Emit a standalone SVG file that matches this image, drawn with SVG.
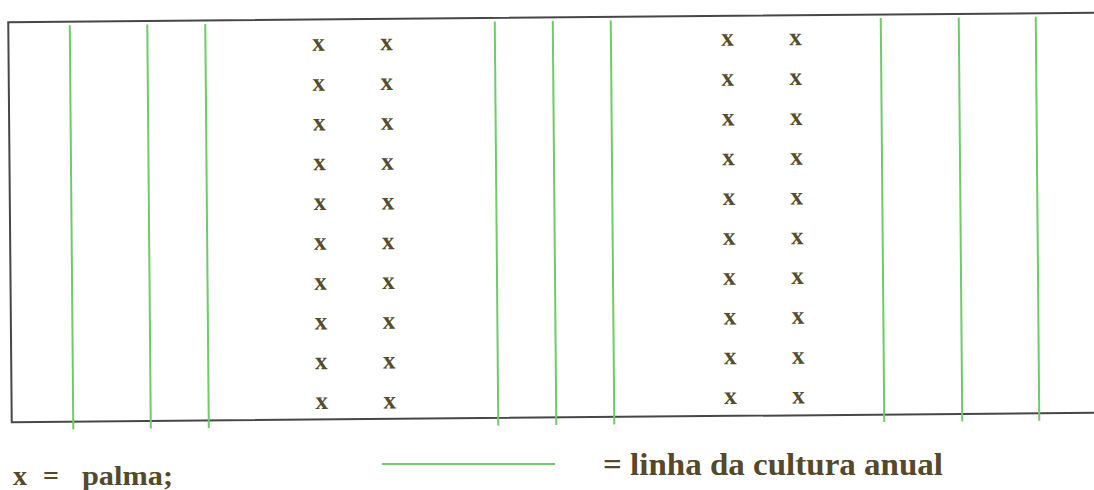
<svg xmlns="http://www.w3.org/2000/svg" width="1094" height="490" viewBox="0 0 1094 490">
<style>
.frame{fill:none;stroke:#474747;stroke-width:2}
.crop{stroke:#6fcb6a;stroke-width:2;fill:none}
.palm{font-family:'Liberation Serif','DejaVu Serif',serif;font-weight:700;font-size:25px;fill:#564c2c;text-anchor:middle}
.legend{font-family:'Liberation Serif','DejaVu Serif',serif;font-weight:700;fill:#54492a}
</style>
<rect width="1094" height="490" fill="#ffffff"/>
<g transform="rotate(-0.5 547 220)">
  <g id="field">
    <rect class="frame" x="10" y="17.5" width="1130" height="400"/>
  </g>
  <g id="connectors">
    <line class="crop" x1="71.5" y1="21" x2="71.5" y2="425"/>
    <line class="crop" x1="149" y1="21" x2="149" y2="425"/>
    <line class="crop" x1="207" y1="21" x2="207" y2="425"/>
    <line class="crop" x1="496.5" y1="21" x2="496.5" y2="425"/>
    <line class="crop" x1="554.5" y1="21" x2="554.5" y2="425"/>
    <line class="crop" x1="612.5" y1="21" x2="612.5" y2="425"/>
    <line class="crop" x1="882.5" y1="21" x2="882.5" y2="425"/>
    <line class="crop" x1="960.5" y1="21" x2="960.5" y2="425"/>
    <line class="crop" x1="1037.5" y1="21" x2="1037.5" y2="425"/>
  </g>
  <g id="palm-left" class="palm">
    <text x="320" y="48.8">x</text><text x="388" y="48.8">x</text>
    <text x="320" y="88.6">x</text><text x="388" y="88.6">x</text>
    <text x="320" y="128.4">x</text><text x="388" y="128.4">x</text>
    <text x="320" y="168.2">x</text><text x="388" y="168.2">x</text>
    <text x="320" y="208">x</text><text x="388" y="208">x</text>
    <text x="320" y="247.8">x</text><text x="388" y="247.8">x</text>
    <text x="320" y="287.6">x</text><text x="388" y="287.6">x</text>
    <text x="320" y="327.4">x</text><text x="388" y="327.4">x</text>
    <text x="320" y="367.2">x</text><text x="388" y="367.2">x</text>
    <text x="320" y="407">x</text><text x="388" y="407">x</text>
  </g>
  <g id="palm-right" class="palm">
    <text x="729" y="47.4">x</text><text x="797" y="47.4">x</text>
    <text x="729" y="87.2">x</text><text x="797" y="87.2">x</text>
    <text x="729" y="127">x</text><text x="797" y="127">x</text>
    <text x="729" y="166.8">x</text><text x="797" y="166.8">x</text>
    <text x="729" y="206.6">x</text><text x="797" y="206.6">x</text>
    <text x="729" y="246.4">x</text><text x="797" y="246.4">x</text>
    <text x="729" y="286.2">x</text><text x="797" y="286.2">x</text>
    <text x="729" y="326">x</text><text x="797" y="326">x</text>
    <text x="729" y="365.8">x</text><text x="797" y="365.8">x</text>
    <text x="729" y="405.6">x</text><text x="797" y="405.6">x</text>
  </g>
</g>
<g id="legend-palm">
  <text class="legend" font-size="28" y="485"><tspan x="13">x</tspan><tspan x="43">=</tspan><tspan x="82" textLength="91" lengthAdjust="spacingAndGlyphs">palma;</tspan></text>
</g>
<g id="legend-crop">
  <line class="crop" x1="382" y1="464" x2="555" y2="464" stroke-width="1.8"/>
  <text class="legend" font-size="31" x="603" y="475" textLength="340" lengthAdjust="spacingAndGlyphs">= linha da cultura anual</text>
</g>
</svg>
